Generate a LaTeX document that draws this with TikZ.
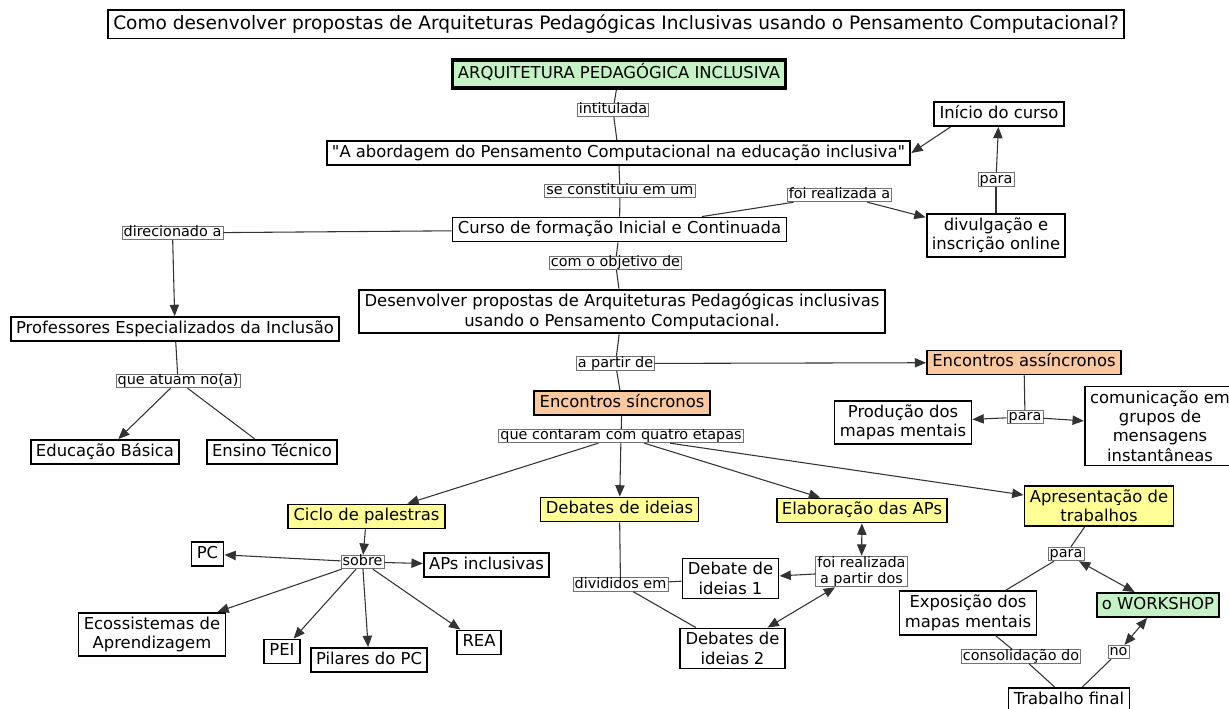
\documentclass[tikz,border=0pt]{standalone}
\usepackage{fontspec}
\setmainfont{DejaVu Sans}
\newfontfamily\plainfont{DejaVu Sans}
\usetikzlibrary{arrows.meta}

\definecolor{cmgreen}{RGB}{196,242,196}
\definecolor{cmorange}{RGB}{249,200,158}
\definecolor{cmyellow}{RGB}{255,255,150}

\newcommand{\cfont}{\plainfont\fontsize{12.3}{14.5}\selectfont}
\newcommand{\lfont}{\plainfont\fontsize{10.8}{12}\selectfont}

\begin{document}
\begin{tikzpicture}[
    x=0.75pt, y=-0.75pt,
    box/.style={rectangle, draw, line width=1.4pt, fill=white, font=\cfont, inner xsep=4pt, inner ysep=3pt, align=center},
    one/.style={text height=9.2pt, text depth=2.8pt},
    lnk/.style={rectangle, draw=black!55, line width=0.6pt, fill=white, font=\lfont, inner xsep=1.2pt, inner ysep=0.3pt},
    lone/.style={text height=7.6pt, text depth=2pt},
    con/.style={draw=black!80, line width=0.8pt},
    arr/.style={con, -{Triangle[length=8.5pt, width=7pt]}},
    darr/.style={con, {Triangle[length=8.5pt, width=7pt]}-{Triangle[length=8.5pt, width=7pt]}}
]
\useasboundingbox (0,0) rectangle (1229,709);

\node[box, font=\plainfont\fontsize{13.9}{16}\selectfont, line width=1pt, text height=10.6pt, text depth=3.3pt, inner ysep=3.8pt] (pergunta) at (616,24.5) {Como desenvolver propostas de Arquiteturas Pedagógicas Inclusivas usando o Pensamento Computacional?};

\node[box, one, fill=cmgreen, line width=2.6pt, inner ysep=4.5pt] (apinc) at (619,74) {ARQUITETURA PEDAGÓGICA INCLUSIVA};
\node[box, one] (titulo) at (618.5,153) {"A abordagem do Pensamento Computacional na educação inclusiva"};
\node[box, one] (curso) at (619.5,229.5) {Curso de formação Inicial e Continuada};
\node[box, one] (inicio) at (999,114) {Início do curso};
\node[box] (divulga) at (996,235.5) {divulgação e\\inscrição online};
\node[box, one] (profs) at (175,329) {Professores Especializados da Inclusão};
\node[box, one] (basica) at (105,452) {Educação Básica};
\node[box, one] (tecnico) at (272,452) {Ensino Técnico};
\node[box] (objetivo) at (622,311.5) {Desenvolver propostas de Arquiteturas Pedagógicas inclusivas\\usando o Pensamento Computacional.};
\node[box, one, fill=cmorange] (assinc) at (1024,362.5) {Encontros assíncronos};
\node[box, one, fill=cmorange] (sinc) at (622,403) {Encontros síncronos};
\node[box] (mapas) at (903,422.5) {Produção dos\\mapas mentais};
\node[box] (grupos) at (1160,426) {comunicação em\\grupos de\\mensagens\\instantâneas};
\node[box, one, fill=cmyellow] (palestras) at (366.5,516.5) {Ciclo de palestras};
\node[box, one, fill=cmyellow] (debates) at (619.5,509.5) {Debates de ideias};
\node[box, one, fill=cmyellow] (elabora) at (862,510.5) {Elaboração das APs};
\node[box, fill=cmyellow] (apresenta) at (1099,506) {Apresentação de\\trabalhos};
\node[box, one] (pc) at (207.5,554) {PC};
\node[box, one] (apsinc) at (486.5,565) {APs inclusivas};
\node[box] (ecossis) at (152,634.5) {Ecossistemas de\\Aprendizagem};
\node[box, one] (pei) at (282,651.5) {PEI};
\node[box, one] (pilares) at (369,660) {Pilares do PC};
\node[box, one] (rea) at (479,642.5) {REA};
\node[box] (deb1) at (730.5,578.5) {Debate de\\ideias 1};
\node[box] (deb2) at (732.5,648.5) {Debates de\\ideias 2};
\node[box] (exposicao) at (968,613) {Exposição dos\\mapas mentais};
\node[box, one, fill=cmgreen] (workshop) at (1158,605) {o WORKSHOP};
\node[box, one] (final) at (1069,700) {Trabalho final};

\node[lnk, lone] (intitulada) at (613,110) {intitulada};
\node[lnk, lone] (constitui) at (620,191) {se constituiu em um};
\node[lnk, lone] (realizadaA) at (839.5,195) {foi realizada a};
\node[lnk, lone] (paraA) at (996,179.5) {para};
\node[lnk, lone] (direcionado) at (172.5,233) {direcionado a};
\node[lnk, lone] (objetivoDe) at (615.5,263) {com o objetivo de};
\node[lnk, lone] (partir) at (615.5,363.5) {a partir de};
\node[lnk, lone] (atuam) at (178,381) {que atuam no(a)};
\node[lnk, lone] (etapas) at (621,436) {que contaram com quatro etapas};
\node[lnk, lone] (paraB) at (1025,417) {para};
\node[lnk, lone] (sobre) at (362.5,562) {sobre};
\node[lnk, lone] (divididos) at (620.5,584.5) {divididos em};
\node[lnk, align=center] (realizadaB) at (861.5,571.5) {foi realizada\\a partir dos};
\node[lnk, lone] (paraC) at (1066,554) {para};
\node[lnk, lone] (consolida) at (1021,656.5) {consolidação do};
\node[lnk, lone] (no) at (1118.5,652) {no};

\draw[con] (apinc) -- (intitulada);
\draw[con] (intitulada) -- (titulo);
\draw[con] (titulo) -- (constitui);
\draw[con] (constitui) -- (curso);
\draw[con] (curso) -- (realizadaA);
\draw[arr] (realizadaA) -- (divulga);
\draw[con] (divulga) -- (paraA);
\draw[arr] (paraA) -- (inicio);
\draw[arr] ([xshift=13pt]inicio.south west) -- (titulo.east);
\draw[con] (curso) -- (direcionado);
\draw[arr] (direcionado) -- (profs);
\draw[con] (curso) -- (objetivoDe);
\draw[con] (objetivoDe) -- (objetivo);
\draw[con] (objetivo) -- (partir);
\draw[arr] (partir) -- (assinc);
\draw[con] (partir) -- (sinc);
\draw[con] (profs) -- (atuam);
\draw[arr] (atuam) -- (basica);
\draw[con] (atuam) -- (tecnico);
\draw[con] (assinc) -- (paraB);
\draw[arr] (paraB) -- (mapas);
\draw[arr] (paraB) -- (grupos);
\draw[con] (sinc) -- (etapas);
\draw[arr] (etapas) -- (palestras);
\draw[arr] (etapas) -- (debates);
\draw[arr] (etapas) -- (elabora);
\draw[arr] (etapas) -- (apresenta);
\draw[arr] (palestras) -- (sobre);
\draw[arr] (sobre) -- (pc);
\draw[arr] (sobre) -- (apsinc);
\draw[arr] (sobre) -- (ecossis);
\draw[arr] (sobre) -- (pei);
\draw[arr] (sobre) -- (pilares);
\draw[arr] (sobre) -- (rea);
\draw[con] (debates) -- (divididos);
\draw[con] (divididos) -- (deb1);
\draw[con] (divididos) -- (deb2);
\draw[darr] (elabora) -- (realizadaB);
\draw[arr] (realizadaB) -- (deb1);
\draw[darr] (realizadaB) -- (deb2);
\draw[con] (apresenta) -- (paraC);
\draw[con] (paraC) -- (exposicao);
\draw[darr] (paraC) -- (workshop);
\draw[con] (exposicao) -- (consolida);
\draw[con] (consolida) -- (final);
\draw[con] (final) -- (no);
\draw[darr] (no) -- (workshop);
\end{tikzpicture}
\end{document}
